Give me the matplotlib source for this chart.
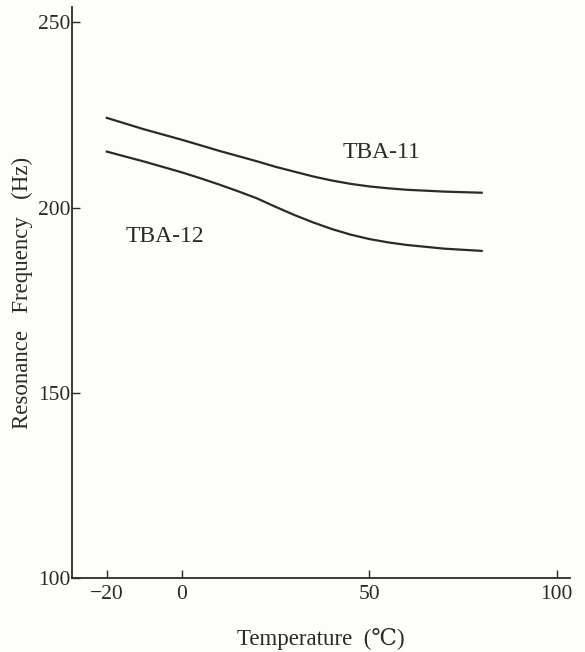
import matplotlib
matplotlib.use("Agg")
from matplotlib import pyplot as plt

# temperature (C) vs resonance frequency (Hz)
temps = [-20, -10, 0, 5, 10, 15, 20, 25, 30, 35, 40, 45, 50, 55, 60, 70, 80]
tba11 = [224.2, 221.1, 218.3, 216.8, 215.3, 213.9, 212.5, 211.0, 209.7, 208.4, 207.3, 206.4, 205.7, 205.2, 204.8, 204.3, 204.0]
tba12 = [215.1, 212.4, 209.5, 207.9, 206.2, 204.4, 202.5, 200.2, 198.0, 196.0, 194.2, 192.7, 191.5, 190.6, 189.9, 188.9, 188.3]
x_ticks = [-20, 0, 50, 100]
y_ticks = [100, 150, 200, 250]

serif = ['Liberation Serif', 'DejaVu Serif']
ink = '#2a2a2a'

fig = plt.figure(figsize=(5.85, 6.52), dpi=100, facecolor='#fdfdf9')
ax = fig.add_axes([0.123, 0.1135, 0.851, 0.875])
ax.set_facecolor('#fdfdf9')

ax.plot(temps, tba11, color=ink, lw=1.6)
ax.plot(temps, tba12, color=ink, lw=1.6)
ax.text(53.4, 214.8, 'TBA-11', family=serif, fontsize=17, color=ink, ha='center', va='center')
ax.text(-4.5, 192.2, 'TBA-12', family=serif, fontsize=17, color=ink, ha='center', va='center')

ax.set_xlim(-29.3, 103.5)
ax.set_ylim(100, 254)
ax.set_xticks(x_ticks)
ax.set_yticks(y_ticks)
ax.set_xticklabels(['\u221220', '0', '50', '100'], family=serif, fontsize=15.5, color=ink)
ax.set_yticklabels([str(v) for v in y_ticks], family=serif, fontsize=15.5, color=ink)
ax.tick_params(direction='in', length=6, width=1, colors=ink)
ax.tick_params(axis='x', pad=5)
ax.tick_params(axis='y', pad=1)

for s in ['top', 'right']:
    ax.spines[s].set_visible(False)
for s in ['left', 'bottom']:
    ax.spines[s].set_color(ink)
    ax.spines[s].set_linewidth(1.3)

ax.set_xlabel('Temperature  (\u2103)', family=serif, fontsize=16.5, color=ink, labelpad=17)
ax.set_ylabel('Resonance   Frequency   (Hz)', family=serif, fontsize=16.5, color=ink, labelpad=4)

fig.savefig('out.png', dpi=100, facecolor=fig.get_facecolor())
